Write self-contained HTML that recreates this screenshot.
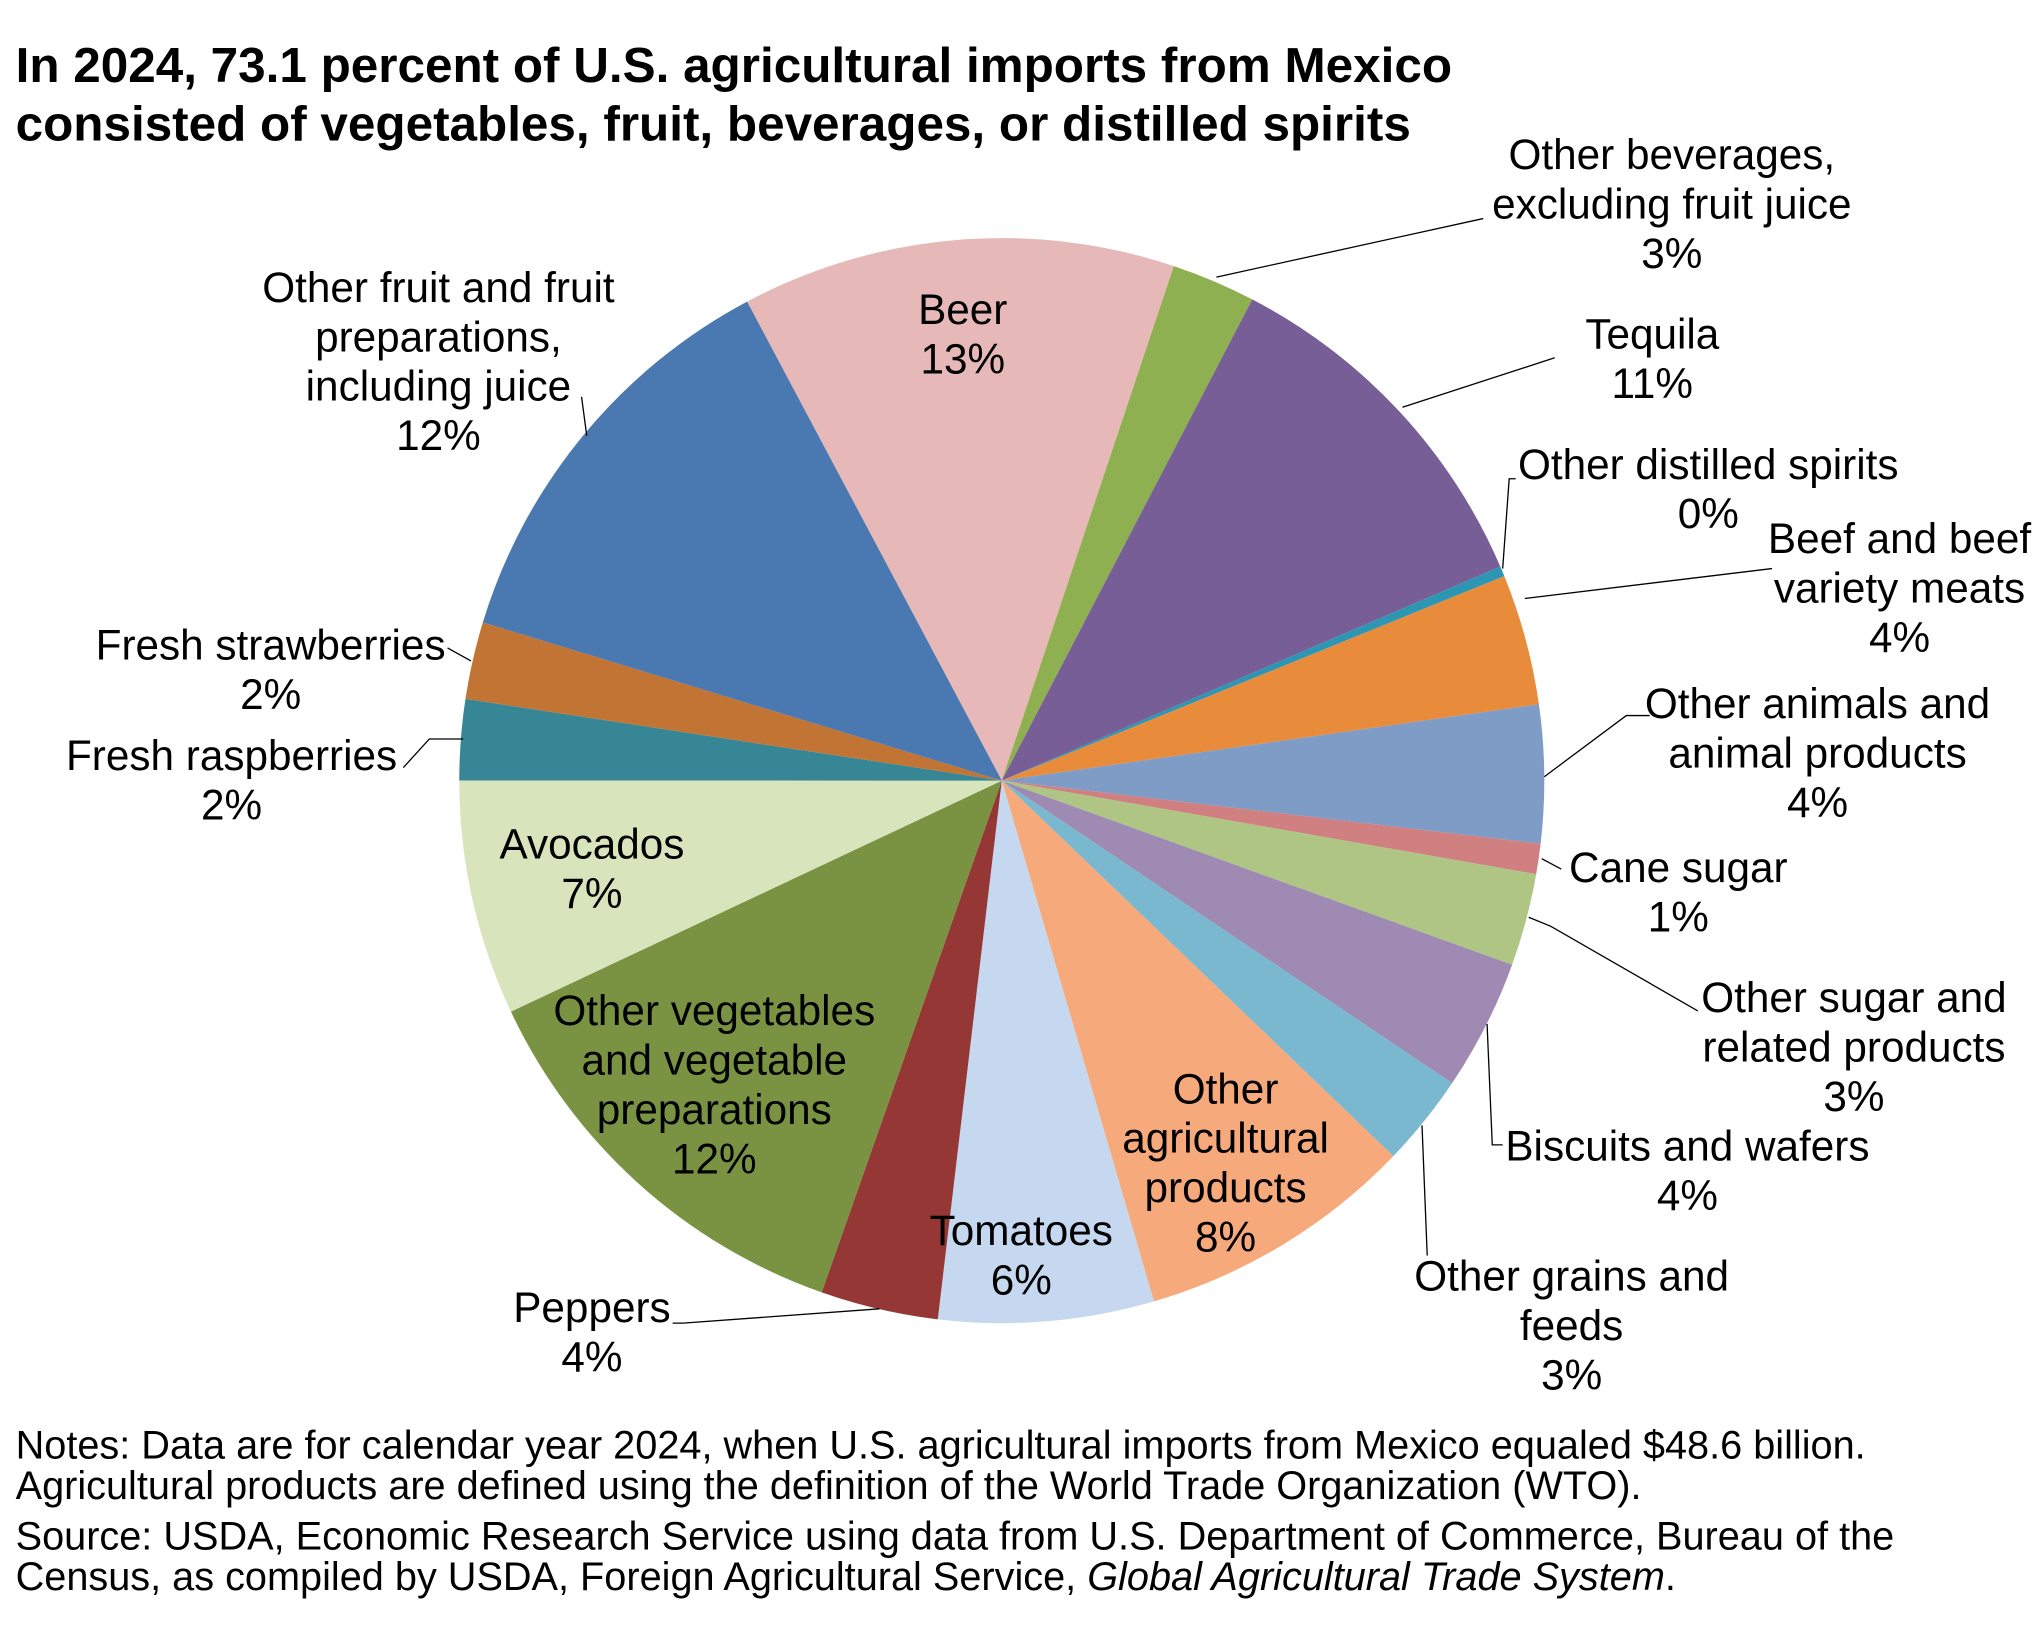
<!DOCTYPE html>
<html><head><meta charset="utf-8">
<style>
html,body{margin:0;padding:0;background:#fff;}
svg{display:block;font-family:"Liberation Sans",Arial,sans-serif;}
</style></head>
<body>
<svg id="chart" width="2040" height="1632" viewBox="0 0 1568 1254.4" xmlns="http://www.w3.org/2000/svg">
<text x="12" y="63" font-size="38" font-weight="bold" fill="#000">In 2024, 73.1 percent of U.S. agricultural imports from Mexico</text>
<text x="12" y="108" font-size="38" font-weight="bold" fill="#000">consisted of vegetables, fruit, beverages, or distilled spirits</text>
<g id="slices"></g>
<g id="leaders" stroke="#000" stroke-width="1" fill="none"></g>
<g id="labels" font-size="32.5" fill="#000" text-anchor="middle"></g>
<g font-size="30.5" fill="#000">
<text x="12" y="1121">Notes: Data are for calendar year 2024, when U.S. agricultural imports from Mexico equaled $48.6 billion.</text>
<text x="12" y="1152">Agricultural products are defined using the definition of the World Trade Organization (WTO).</text>
<text x="12" y="1191">Source: USDA, Economic Research Service using data from U.S. Department of Commerce, Bureau of the</text>
<text x="12" y="1222">Census, as compiled by USDA, Foreign Agricultural Service, <tspan font-style="italic">Global Agricultural Trade System</tspan>.</text>
</g>
</svg>
<script>
const categories = ["Beer","Other beverages, excluding fruit juice","Tequila","Other distilled spirits","Beef and beef variety meats","Other animals and animal products","Cane sugar","Other sugar and related products","Biscuits and wafers","Other grains and feeds","Other agricultural products","Tomatoes","Peppers","Other vegetables and vegetable preparations","Avocados","Fresh raspberries","Fresh strawberries","Other fruit and fruit preparations, including juice"];
const values = [12.9,2.5,10.9,0.3,3.9,4.1,0.9,2.75,3.9,2.75,8.3,6.4,3.5,12.6,7.0,2.4,2.3,12.5];
const pctLabels = ["13%","3%","11%","0%","4%","4%","1%","3%","4%","3%","8%","6%","4%","12%","7%","2%","2%","12%"];
const colors = ["#e6b9b8","#8fb050","#775e96","#2d96b3","#e88c3c","#7f9cc7","#d08080","#afc583","#9e8ab3","#7ab8cf","#f6a97a","#c6d8ef","#953735","#7a9343","#d8e4bc","#378696","#c27434","#4a78b0"];
const startAngle = 332;
const cx = 770, cy = 600, r = 417;
const NS = "http://www.w3.org/2000/svg";
function pt(a, rad){ const t = a*Math.PI/180; return [cx + rad*Math.sin(t), cy - rad*Math.cos(t)]; }
const total = values.reduce((a,b)=>a+b,0);
const sg = document.getElementById("slices");
let ang = startAngle;
values.forEach((v,i)=>{
  const sweep = v/total*360;
  const p1 = pt(ang, r), p2 = pt(ang+sweep, r);
  const path = document.createElementNS(NS,"path");
  path.setAttribute("d",`M${cx},${cy} L${p1[0]},${p1[1]} A${r},${r} 0 ${sweep>180?1:0} 1 ${p2[0]},${p2[1]} Z`);
  path.setAttribute("fill",colors[i]);
  
  
  sg.appendChild(path);
  ang += sweep;
});
const labelPos = [
 [["Beer"],740,249],
 [["Other beverages,","excluding fruit juice"],1285,130],
 [["Tequila"],1270,268],
 [["Other distilled spirits"],1313,368],
 [["Beef and beef","variety meats"],1460,425],
 [["Other animals and","animal products"],1397,552],
 [["Cane sugar"],1290,678],
 [["Other sugar and","related products"],1425,778],
 [["Biscuits and wafers"],1297,892],
 [["Other grains and","feeds"],1208,992],
 [["Other","agricultural","products"],942,848],
 [["Tomatoes"],785,957],
 [["Peppers"],455,1016],
 [["Other vegetables","and vegetable","preparations"],549,788],
 [["Avocados"],455,660],
 [["Fresh raspberries"],178,592],
 [["Fresh strawberries"],208,507],
 [["Other fruit and fruit","preparations,","including juice"],337,232]
];
const lh = 38;
const lg = document.getElementById("labels");
labelPos.forEach((L,i)=>{
  const t = document.createElementNS(NS,"text");
  
  
  const lines = L[0].concat([pctLabels[i]]);
  lines.forEach((s,k)=>{
    const ts = document.createElementNS(NS,"tspan");
    ts.setAttribute("x",L[1]); ts.setAttribute("y",L[2]+k*lh);
    ts.textContent = s; t.appendChild(ts);
  });
  lg.appendChild(t);
});
const leaderPts = [
 "935,213 1140,168",
 "1078,313 1195,275",
 "1155,437 1160,368 1165,368",
 "1172,460 1362,437",
 "1187,597 1250,550 1268,550",
 "1185,660 1200,668",
 "1175,705 1192,712 1305,777",
 "1143,787 1147,880 1155,880",
 "1093,865 1097,965",
 "676,1006 525,1017 517,1017",
 "356,568 330,568 310,590",
 "362,508 344,498",
 "447,305 451,335"
];
const ld = document.getElementById("leaders");
leaderPts.forEach((p)=>{
  const pl = document.createElementNS(NS,"polyline");
  pl.setAttribute("points",p);
  
  
  ld.appendChild(pl);
});
</script>
</body></html>
